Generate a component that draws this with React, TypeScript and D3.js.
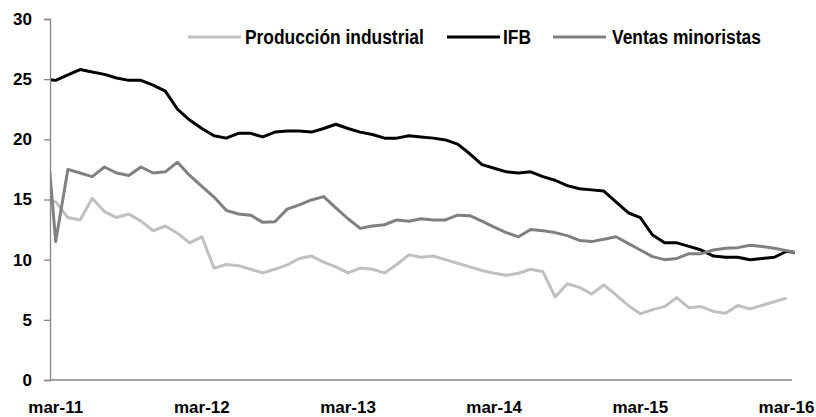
import * as d3 from 'd3'
import { useEffect, useRef } from 'react'

// monthly, feb-11 .. apr-16 (feb-11 and apr-16 fall outside the plot and get clipped)
const ifb = [
  25.0, 24.9, 25.35, 25.8, 25.6, 25.4, 25.1, 24.9, 24.9, 24.5, 24.0,
  22.5, 21.6, 20.9, 20.3, 20.1, 20.5, 20.5, 20.2, 20.6, 20.7, 20.7,
  20.6, 20.9, 21.25, 20.9, 20.6, 20.4, 20.1, 20.1, 20.3, 20.2, 20.1,
  19.95, 19.6, 18.8, 17.9, 17.6, 17.3, 17.2, 17.3, 16.9, 16.6, 16.15,
  15.9, 15.8, 15.7, 14.8, 13.9, 13.5, 12.05, 11.4, 11.4, 11.1, 10.8,
  10.3, 10.2, 10.2, 10.0, 10.1, 10.2, 10.7, 10.55,
]
const ventas = [
  23.5, 11.5, 17.5, 17.2, 16.9, 17.7, 17.2, 17.0, 17.7, 17.2, 17.3,
  18.1, 17.0, 16.1, 15.2, 14.1, 13.8, 13.7, 13.1, 13.15, 14.2, 14.55,
  14.96, 15.24, 14.3, 13.4, 12.6, 12.8, 12.9, 13.3, 13.2, 13.4, 13.3,
  13.3, 13.7, 13.65, 13.2, 12.7, 12.25, 11.9, 12.5, 12.4, 12.25, 12.0,
  11.6, 11.5, 11.7, 11.9, 11.35, 10.8, 10.25, 10.0, 10.1, 10.5, 10.5,
  10.8, 10.95, 11.0, 11.2, 11.1, 10.95, 10.75, 10.55,
]
const produccion = [
  15.1, 14.8, 13.5, 13.3, 15.1, 14.0, 13.5, 13.8, 13.2, 12.4, 12.8,
  12.2, 11.4, 11.9, 9.3, 9.6, 9.5, 9.2, 8.9, 9.2, 9.56, 10.1,
  10.3, 9.8, 9.4, 8.9, 9.3, 9.2, 8.9, 9.6, 10.4, 10.2, 10.3,
  10.0, 9.7, 9.4, 9.1, 8.87, 8.7, 8.87, 9.2, 9.0, 6.9, 8.0,
  7.7, 7.15, 7.9, 7.07, 6.2, 5.5, 5.85, 6.1, 6.85, 6.0, 6.1,
  5.7, 5.55, 6.2, 5.9, 6.2, 6.5, 6.8,
]
const tickLabels = ['mar-11', 'mar-12', 'mar-13', 'mar-14', 'mar-15', 'mar-16']
const yTicks = [0, 5, 10, 15, 20, 25, 30]

const series = [
  { name: 'Producción industrial', values: produccion, color: '#c0c0c0' },
  { name: 'IFB', values: ifb, color: '#000000' },
  { name: 'Ventas minoristas', values: ventas, color: '#808080' },
]

const font = "'Liberation Sans', Arial, sans-serif"

export default function App() {
  const ref = useRef<SVGSVGElement>(null)

  useEffect(() => {
    document.body.style.margin = '0'
    if (!ref.current) return
    const svg = d3.select(ref.current)
    svg.selectAll('*').remove()

    const width = 816
    const height = 417
    const left = 50
    const right = 792
    const top = 19
    const bottom = 380

    svg.attr('width', width).attr('height', height).style('display', 'block')

    // index 1 = mar-11, index 61 = mar-16
    const x = d3.scaleLinear().domain([1, 61]).range([55.7, 786.5])
    const y = d3.scaleLinear().domain([0, 30]).range([bottom, top])

    svg
      .append('defs')
      .append('clipPath')
      .attr('id', 'plot')
      .append('rect')
      .attr('x', left + 0.5)
      .attr('y', 0)
      .attr('width', 795 - left - 0.5)
      .attr('height', height)

    // Lines
    const line = d3
      .line<number>()
      .x((_, i) => x(i))
      .y(d => y(d))

    const g = svg.append('g').attr('clip-path', 'url(#plot)')
    series.forEach(s => {
      g.append('path')
        .datum(s.values)
        .attr('fill', 'none')
        .attr('stroke', s.color)
        .attr('stroke-width', 3)
        .attr('stroke-linejoin', 'round')
        .attr('d', line)
    })

    // Y axis
    const yAxis = svg
      .append('g')
      .attr('transform', `translate(${left},0)`)
      .call(d3.axisLeft(y).tickValues(yTicks).tickSize(6).tickPadding(12))
    yAxis.selectAll('path, line').attr('stroke', '#868686').attr('stroke-width', 1.3)
    yAxis
      .selectAll('text')
      .attr('fill', '#000')
      .style('font-family', font)
      .style('font-weight', 'bold')
      .style('font-size', '17px')

    // X axis line
    svg
      .append('line')
      .attr('x1', left)
      .attr('x2', right)
      .attr('y1', bottom)
      .attr('y2', bottom)
      .attr('stroke', '#868686')
      .attr('stroke-width', 1.3)

    // X labels (one per year)
    svg
      .selectAll('.x-label')
      .data(tickLabels)
      .enter()
      .append('text')
      .attr('class', 'x-label')
      .attr('x', (_, i) => x(1 + i * 12))
      .attr('y', 413)
      .attr('text-anchor', 'middle')
      .style('font-family', font)
      .style('font-weight', 'bold')
      .style('font-size', '17px')
      .text(d => d)

    // Legend (narrow bold text, squeezed horizontally)
    const legendLine = [188, 447, 553]
    const legendText = [245, 503, 612]
    series.forEach((s, i) => {
      svg
        .append('line')
        .attr('x1', legendLine[i])
        .attr('x2', legendLine[i] + 53)
        .attr('y1', 37)
        .attr('y2', 37)
        .attr('stroke', s.color)
        .attr('stroke-width', 3)
      svg
        .append('text')
        .attr('transform', `translate(${legendText[i]},44) scale(0.87,1)`)
        .style('font-family', font)
        .style('font-weight', 'bold')
        .style('font-size', '20px')
        .text(s.name)
    })
  }, [])

  return <svg ref={ref}></svg>
}
